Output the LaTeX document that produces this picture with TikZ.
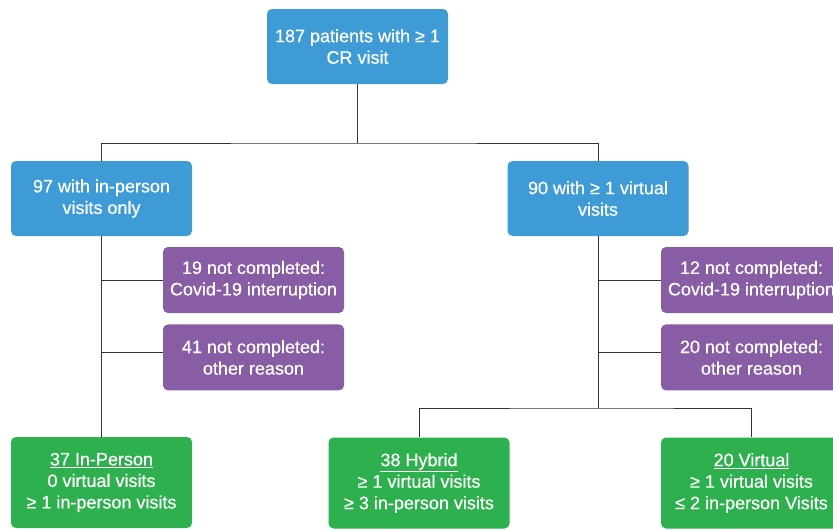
\documentclass[tikz,border=0pt]{standalone}
\usepackage{fontspec}
\setmainfont{Liberation Sans}
\newfontfamily\boxfont{Liberation Sans}[FakeBold=0.5]
\usetikzlibrary{positioning}

\definecolor{crblue}{HTML}{3E9BD6}
\definecolor{crpurple}{HTML}{895CA6}
\definecolor{crgreen}{HTML}{2DB04D}

\begin{document}
\begin{tikzpicture}[x=1pt,y=-1pt,
        box/.style = {rounded corners=5pt, text=white, align=center, inner sep=2pt,
            minimum width=181pt, font=\boxfont\fontsize{18}{21.5}\selectfont},
        group/.style = {box, fill=crblue, minimum height=75pt},
        dropout/.style = {box, fill=crpurple, minimum height=66pt},
        outcome/.style = {box, fill=crgreen, minimum height=91pt},
        link/.style = {draw=black!80, line width=0.8pt}
    ]
    \useasboundingbox (0,0) rectangle (833,530);

    \node[group] (all) at (357.5,46.5) {187 patients with ≥ 1\\CR visit};
    \node[group] (inperson) at (101.5,198.5) {97 with in-person\\visits only};
    \node[group] (virtual) at (598,198.5) {90 with ≥ 1 virtual\\visits};

    \node[dropout] (covidL) at (253.5,280) {19 not completed:\\Covid-19 interruption};
    \node[dropout] (otherL) [below=11pt of covidL] {41 not completed:\\other reason};
    \node[dropout] (covidR) at (751.5,280) {12 not completed:\\Covid-19 interruption};
    \node[dropout] (otherR) [below=11pt of covidR] {20 not completed:\\other reason};

    \node[outcome] (inpgrp) at (101.5,482.5) {\underline{37 In-Person}\\0 virtual visits\\≥ 1 in-person visits};
    \node[outcome] (hybgrp) at (419,483) {\underline{38 Hybrid}\\≥ 1 virtual visits\\≥ 3 in-person visits};
    \node[outcome] (virgrp) at (751.5,483) {\underline{20 Virtual}\\≥ 1 virtual visits\\≤ 2 in-person Visits};

    \coordinate (split) at (357.5,143);
    \coordinate (splitR) at (598,408);

    \path[link] (all) -- (split);
    \path[link] (inperson.north) |- (split) -| (virtual.north);
    \path[link] (inperson) -- (inpgrp);
    \path[link] (inperson.south |- covidL.west) -- (covidL.west);
    \path[link] ([yshift=5pt]inperson.south |- otherL.west) -- ([yshift=5pt]otherL.west);
    \path[link] (virtual) -- (splitR);
    \path[link] (virtual.south |- covidR.west) -- (covidR.west);
    \path[link] ([yshift=5pt]virtual.south |- otherR.west) -- ([yshift=5pt]otherR.west);
    \path[link] (hybgrp.north) |- (splitR) -| (virgrp.north);
\end{tikzpicture}
\end{document}
